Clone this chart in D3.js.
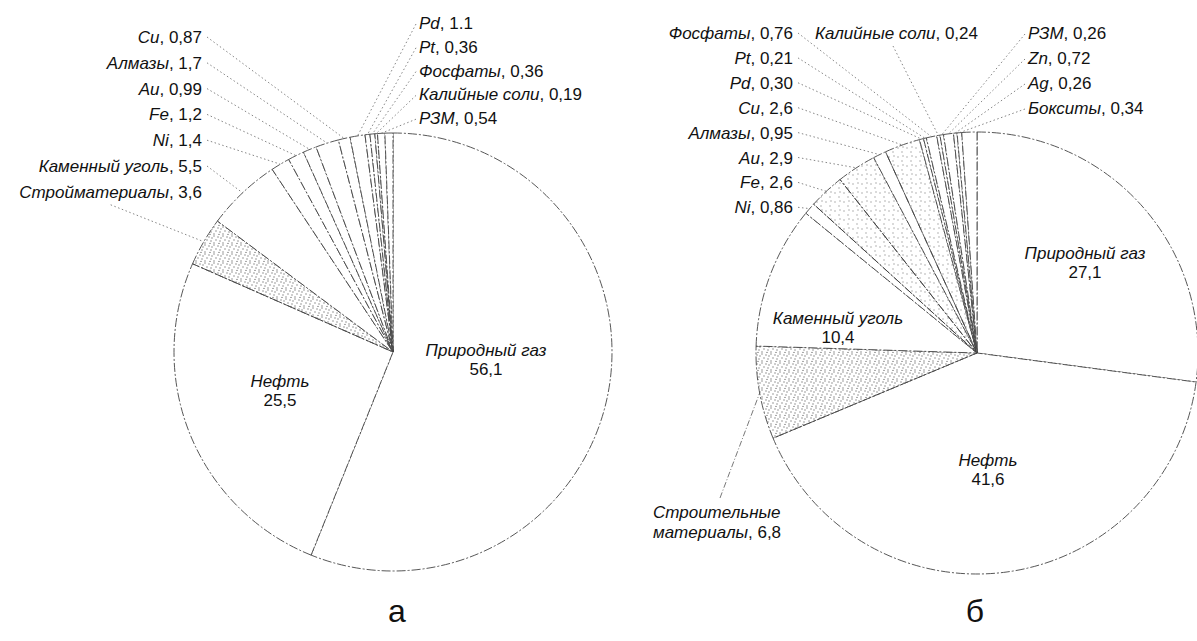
<!DOCTYPE html>
<html>
<head>
<meta charset="utf-8">
<script src="https://cdn.jsdelivr.net/npm/d3@7"></script>
<style>
  body { margin: 0; background: #fff; }
  text { font-family: "Liberation Sans", Arial, sans-serif; fill: #111; }
</style>
</head>
<body>
<svg id="viz"></svg>
<script>
// Data (values in %, kept as printed, decimal comma)
const namesA = ["Природный газ", "Нефть", "Стройматериалы", "Каменный уголь", "Ni", "Fe", "Au",
    "Алмазы", "Cu", "Pd", "Pt", "Фосфаты", "Калийные соли", "РЗМ"];
const valuesA = ["56,1", "25,5", "3,6", "5,5", "1,4", "1,2", "0,99", "1,7", "0,87", "1.1", "0,36",
    "0,36", "0,19", "0,54"];

const namesB = ["Природный газ", "Нефть", "Строительные материалы", "Каменный уголь", "Ni", "Fe", "Au",
    "Алмазы", "Cu", "Pd", "Pt", "Фосфаты", "Калийные соли", "РЗМ", "Zn", "Ag", "Бокситы"];
const valuesB = ["27,1", "41,6", "6,8", "10,4", "0,86", "2,6", "2,9", "0,95", "2,6", "0,30", "0,21",
    "0,76", "0,24", "0,26", "0,72", "0,26", "0,34"];

const panelLabels = ["а", "б"];

/*
 * Layout of the two panels (positions only)
 */
const dimensions = { width: 1197, height: 641, fontSize: 17 };

const panels = [
    {
        names: namesA, values: valuesA, label: panelLabels[0],
        cx: 393, cy: 352, r: 219, labelX: 397,
        dense: ["Стройматериалы"], light: [],
        inner: [
            { name: "Природный газ", x: 486, y: 350 },
            { name: "Нефть", x: 280, y: 381 }
        ],
        left: { x: 202, y0: 37, dy: 25.8,
            items: ["Cu", "Алмазы", "Au", "Fe", "Ni", "Каменный уголь", "Стройматериалы"] },
        right: { x: 419, y0: 23, dy: 23.8,
            items: ["Pd", "Pt", "Фосфаты", "Калийные соли", "РЗМ"] },
        below: ["Стройматериалы"],
        extra: []
    },
    {
        names: namesB, values: valuesB, label: panelLabels[1],
        cx: 977, cy: 353, r: 221, labelX: 975,
        dense: ["Строительные материалы"], light: ["Fe", "Au", "Cu"],
        inner: [
            { name: "Природный газ", x: 1085, y: 253 },
            { name: "Нефть", x: 988, y: 460 },
            { name: "Каменный уголь", x: 838, y: 318 }
        ],
        left: { x: 793, y0: 33, dy: 24.9,
            items: ["Фосфаты", "Pt", "Pd", "Cu", "Алмазы", "Au", "Fe", "Ni"] },
        right: { x: 1028, y0: 33, dy: 25,
            items: ["РЗМ", "Zn", "Ag", "Бокситы"] },
        below: [],
        extra: [
            { name: "Калийные соли", x: 815, y: 33, lx: 893, ly: 46 },
            { name: "Строительные материалы", x: 653, y: 512, lines: ["Строительные", "материалы"],
              lx: 720, ly: 498 }
        ]
    }
];

const toNum = s => +s.replace(",", ".");

const svg = d3.select("#viz")
    .attr("width", dimensions.width)
    .attr("height", dimensions.height);

// Stipple patterns for the shaded slices
const defs = svg.append("defs");
function stipple(id, dots, color) {
    const p = defs.append("pattern")
        .attr("id", id)
        .attr("patternUnits", "userSpaceOnUse")
        .attr("width", 9).attr("height", 9);
    dots.forEach(d => p.append("circle")
        .attr("cx", d[0]).attr("cy", d[1]).attr("r", 0.7).attr("fill", color));
}
stipple("dense", [[1, 1], [5, 2], [3, 5], [7, 6], [1, 8], [6, 8.5], [8, 3]], "#777");
stipple("light", [[2, 2], [6, 6], [7, 1]], "#999");

function drawPanel(p) {
    const data = p.names.map((n, i) => ({ name: n, text: p.values[i], value: toNum(p.values[i]) }));
    const total = d3.sum(data, d => d.value);

    // shares are percent of 100, the unlisted rest stays as an empty wedge
    const pie = d3.pie().sort(null).value(d => d.value)
        .endAngle(2 * Math.PI * total / 100);
    const arcs = pie(data);
    const arc = d3.arc().innerRadius(0).outerRadius(p.r);

    const g = svg.append("g").attr("transform", `translate(${p.cx},${p.cy})`);

    const rest = { startAngle: arcs[arcs.length - 1].endAngle, endAngle: 2 * Math.PI, data: { name: "" } };

    g.selectAll("path")
        .data(arcs.concat([rest]))
        .join("path")
        .attr("d", arc)
        .attr("fill", d => p.dense.includes(d.data.name) ? "url(#dense)"
            : p.light.includes(d.data.name) ? "url(#light)" : "#fff")
        .attr("stroke", "#444")
        .attr("stroke-width", 0.9)
        .attr("stroke-dasharray", "9,2,2,2")
        .attr("stroke-linejoin", "round");

    const byName = {};
    arcs.forEach(a => byName[a.data.name] = a);

    // point on the outer arc in the middle of a slice
    const edge = a => {
        const m = (a.startAngle + a.endAngle) / 2;
        return [p.cx + p.r * Math.sin(m), p.cy - p.r * Math.cos(m)];
    };

    const leaders = svg.append("g")
        .attr("fill", "none")
        .attr("stroke", "#666")
        .attr("stroke-width", 0.8)
        .attr("stroke-dasharray", "1.5,2.5");

    // y is the middle of the text line
    function label(x, y, anchor, a) {
        const t = svg.append("text")
            .attr("x", x).attr("y", y + 6)
            .attr("text-anchor", anchor)
            .style("font-size", dimensions.fontSize + "px");
        t.append("tspan").style("font-style", "italic").text(a.data.name);
        t.append("tspan").text(", " + a.data.text);
        return t;
    }

    // left column, right aligned
    p.left.items.forEach((n, i) => {
        const a = byName[n];
        const y = p.left.y0 + i * p.left.dy;
        const t = label(p.left.x, y, "end", a);
        let start = [p.left.x + 5, y];
        if (p.below.includes(n)) {
            const bb = t.node().getBBox();
            start = [bb.x + bb.width / 2, y + 13];
        }
        const e = edge(a);
        leaders.append("line")
            .attr("x1", start[0]).attr("y1", start[1])
            .attr("x2", e[0]).attr("y2", e[1]);
    });

    // right column, left aligned
    p.right.items.forEach((n, i) => {
        const a = byName[n];
        const y = p.right.y0 + i * p.right.dy;
        label(p.right.x, y, "start", a);
        const e = edge(a);
        leaders.append("line")
            .attr("x1", p.right.x - 3).attr("y1", y + 1)
            .attr("x2", e[0]).attr("y2", e[1]);
    });

    // free-standing labels
    p.extra.forEach(o => {
        const a = byName[o.name];
        if (o.lines) {
            const t = svg.append("text")
                .attr("x", o.x).attr("y", o.y + 6)
                .style("font-size", dimensions.fontSize + "px");
            t.append("tspan").style("font-style", "italic").text(o.lines[0]);
            t.append("tspan").attr("x", o.x).attr("dy", 20)
                .style("font-style", "italic").text(o.lines[1]);
            t.append("tspan").text(", " + a.data.text);
            const e = edge(a);
            svg.append("line")
                .attr("x1", o.lx).attr("y1", o.ly)
                .attr("x2", e[0]).attr("y2", e[1])
                .attr("stroke", "#555").attr("stroke-width", 0.8)
                .attr("stroke-dasharray", "6,2,1,2");
        } else {
            label(o.x, o.y, "start", a);
            const e = edge(a);
            leaders.append("line")
                .attr("x1", o.lx).attr("y1", o.ly)
                .attr("x2", e[0]).attr("y2", e[1]);
        }
    });

    // labels inside the big slices
    p.inner.forEach(o => {
        const a = byName[o.name];
        const t = svg.append("text")
            .attr("x", o.x).attr("y", o.y + 6)
            .attr("text-anchor", "middle")
            .style("font-size", dimensions.fontSize + "px");
        t.append("tspan").style("font-style", "italic").text(a.data.name);
        t.append("tspan").attr("x", o.x).attr("dy", 19).text(a.data.text);
    });

    // panel letter
    svg.append("text")
        .attr("x", p.labelX).attr("y", 622)
        .attr("text-anchor", "middle")
        .style("font-size", "32px")
        .text(p.label);
}

panels.forEach(drawPanel);
</script>
</body>
</html>
